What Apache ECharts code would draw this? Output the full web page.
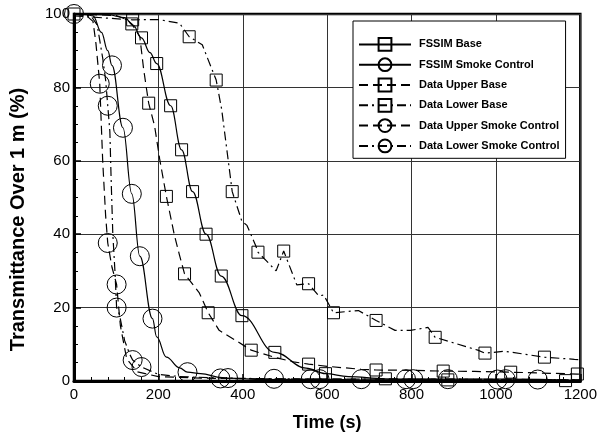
<!DOCTYPE html>
<html>
<head>
<meta charset="utf-8">
<script src="https://cdn.jsdelivr.net/npm/echarts@6/dist/echarts.min.js"></script>
<style>
  html, body { margin: 0; padding: 0; background: #fff; }
  #chart { width: 600px; height: 437px; }
</style>
</head>
<body>
<div id="chart"></div>
<script>
// curves: [time (s), transmittance (%)]
const fssimBaseCurve = [[0, 100], [80, 99.8], [120, 99], [140, 97], [180, 89.5], [550, 3.5], [650, 1.2], [800, 0.4], [1000, 0.1], [1200, 0]];
const fssimBaseMarks = [[0, 100], [160, 93.5], [196, 86.5], [229, 75], [255, 63], [281, 51.6], [313, 40], [349, 28.6], [398, 17.8], [476, 7.8], [596, 2], [738, 0.6], [886, 0.3], [1165, 0.1]];

const fssimSmokeCurve = [[0, 100], [30, 99.8], [45, 99.5], [65, 95], [80, 90], [196, 12], [219, 6.5], [250, 3.6], [300, 2], [351, 0.9], [450, 0.4], [700, 0.2], [1200, 0.1]];
const fssimSmokeMarks = [[0, 100], [90, 86], [116, 69], [137, 51], [156, 34], [186, 17], [269, 2.4], [365, 0.8], [582, 0.5], [804, 0.5], [1023, 0.5]];

const upperBaseCurve = [[0, 100], [100, 99.6], [125, 98.5], [156, 93.8], [165, 85], [172, 79.5], [191, 69.5], [203, 60.5], [238, 39.7], [250, 34.3], [297, 24], [344, 13.8], [384, 11], [474, 6.5], [520, 5.2], [600, 4], [680, 3.2], [800, 2.9], [950, 2.6], [1100, 2.2], [1200, 1.9]];
const upperBaseMarks = [[137, 97.3], [177, 75.7], [219, 50.3], [262, 29.2], [318, 18.6], [420, 8.4], [556, 4.6], [716, 3], [875, 2.7], [1035, 2.4], [1193, 1.9]];

const lowerBaseCurve = [[0, 99.5], [200, 98.5], [250, 97.5], [304, 91.6], [350, 74], [398, 43.5], [410, 42.4], [431, 36.8], [479, 30], [528, 26.2], [580, 23.2], [592, 23.4], [674, 19.2], [761, 13.8], [797, 13.8], [839, 14.6], [957, 8.4], [1021, 8.1], [1186, 5.9], [1200, 5.8]];
const lowerBaseMarks = [[139, 98.4], [273, 93.8], [337, 82], [375, 51.6], [436, 35.1], [497, 35.4], [556, 26.5], [615, 18.6], [716, 16.5], [856, 11.9], [974, 7.6], [1115, 6.5]];

const upperSmokeCurve = [[0, 100], [30, 99.5], [45, 98], [52, 92], [68, 60], [75, 45], [90, 31], [110, 15], [125, 6], [150, 2.5], [200, 1.2], [300, 0.8], [600, 0.5], [1200, 0.3]];
const upperSmokeMarks = [[61, 81], [80, 37.6], [101, 26.3], [347, 0.7], [561, 0.5], [787, 0.5], [1004, 0.4]];

const lowerSmokeCurve = [[0, 100], [40, 99.5], [55, 97], [68, 88], [75, 82], [85, 68], [88, 55], [92, 40], [97, 30], [108, 18], [120, 11], [132, 7.3], [200, 1.8], [250, 1.2], [350, 0.8], [600, 0.5], [1200, 0.3]];
const lowerSmokeMarks = [[80, 75], [101, 20], [139, 5.7], [160, 3.8], [474, 0.6], [681, 0.5], [886, 0.5], [1099, 0.4]];

const seriesNames = ['FSSIM Base', 'FSSIM Smoke Control', 'Data Upper Base', 'Data Lower Base', 'Data Upper Smoke Control', 'Data Lower Smoke Control'];
const xTicks = [0, 200, 400, 600, 800, 1000, 1200];
const yTicks = [0, 20, 40, 60, 80, 100];

const chart = echarts.init(document.getElementById('chart'));

// line points get no symbol, marker points get the series symbol
function merge(curve, marks) {
    const pts = curve.map((p) => ({ value: p, symbol: 'none' }))
        .concat(marks.map((p) => ({ value: p })));
    return pts.sort((a, b) => a.value[0] - b.value[0]);
}

const dashed = [9, 5];
const dashDot = [9, 4, 2, 4];

function makeSeries(name, curve, marks, symbol, size, dash, smooth) {
    return {
        name,
        type: 'line',
        data: merge(curve, marks),
        symbol,
        symbolSize: size,
        showSymbol: true,
        showAllSymbol: true,
        smooth: smooth ? 0.4 : false,
        smoothMonotone: 'x',
        lineStyle: { color: '#000', width: 1.2, type: dash },
        itemStyle: { color: 'rgba(0,0,0,0)', borderColor: '#000', borderWidth: 1 },
        emphasis: { disabled: true },
        animation: false
    };
}

const fontFam = '"Liberation Sans", Arial, sans-serif';

chart.setOption({
    backgroundColor: '#fff',
    grid: { left: 74, right: 17, top: 14, bottom: 53, show: true, borderColor: '#000', borderWidth: 2.5 },
    legend: {
        data: seriesNames,
        orient: 'vertical',
        left: 353,
        top: 21,
        itemWidth: 52,
        itemHeight: 16,
        itemGap: 5.5,
        padding: [16, 6, 5, 5],
        backgroundColor: '#fff',
        borderColor: '#000',
        borderWidth: 1,
        textStyle: { fontFamily: fontFam, fontWeight: 'bold', fontSize: 11, color: '#000', padding: [0, 0, 0, 3] }
    },
    xAxis: {
        type: 'value',
        min: 0,
        max: 1200,
        interval: 200,
        name: 'Time (s)',
        nameLocation: 'middle',
        nameGap: 33,
        nameTextStyle: { fontFamily: fontFam, fontWeight: 'bold', fontSize: 18, color: '#000' },
        axisLine: { lineStyle: { color: '#000', width: 3 } },
        axisTick: { inside: true, length: 7, lineStyle: { color: '#000', width: 1.5 } },
        minorTick: { show: true, splitNumber: 5, length: 4, lineStyle: { color: '#000' } },
        splitLine: { show: true, lineStyle: { color: '#333', width: 1 } },
        axisLabel: {
            fontFamily: fontFam, fontSize: 15, color: '#000', margin: 6,
            formatter: (v) => (xTicks.includes(v) ? String(v) : '')
        }
    },
    yAxis: {
        type: 'value',
        min: 0,
        max: 100,
        interval: 20,
        name: 'Transmittance Over 1 m (%)',
        nameLocation: 'middle',
        nameGap: 46,
        nameTextStyle: { fontFamily: fontFam, fontWeight: 'bold', fontSize: 20, color: '#000', padding: [0, 44, 0, 0] },
        axisLine: { lineStyle: { color: '#000', width: 3 } },
        axisTick: { inside: true, length: 7, lineStyle: { color: '#000', width: 1.5 } },
        minorTick: { show: true, splitNumber: 4, length: 4, lineStyle: { color: '#000' } },
        splitLine: { show: true, lineStyle: { color: '#333', width: 1 } },
        axisLabel: {
            fontFamily: fontFam, fontSize: 15, color: '#000', margin: 4,
            formatter: (v) => (yTicks.includes(v) ? String(v) : '')
        }
    },
    series: [
        makeSeries(seriesNames[0], fssimBaseCurve, fssimBaseMarks, 'rect', 12, 'solid', true),
        makeSeries(seriesNames[1], fssimSmokeCurve, fssimSmokeMarks, 'circle', 19, 'solid', true),
        makeSeries(seriesNames[2], upperBaseCurve, upperBaseMarks, 'rect', 12, dashed, false),
        makeSeries(seriesNames[3], lowerBaseCurve, lowerBaseMarks, 'rect', 12, dashDot, false),
        makeSeries(seriesNames[4], upperSmokeCurve, upperSmokeMarks, 'circle', 19, dashed, false),
        makeSeries(seriesNames[5], lowerSmokeCurve, lowerSmokeMarks, 'circle', 19, dashDot, false)
    ]
});

window.addEventListener('resize', () => chart.resize());
</script>
</body>
</html>
